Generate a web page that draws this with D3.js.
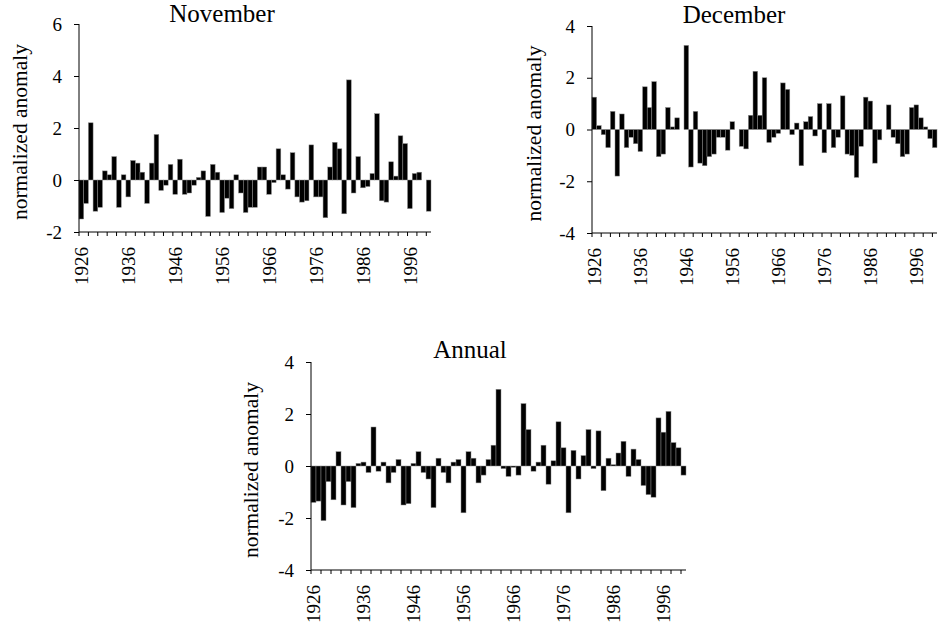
<!DOCTYPE html>
<html lang="en">
<head>
<meta charset="UTF-8">
<title>Normalized anomaly</title>
<style>
  * { margin: 0; }
  body { width: 941px; height: 636px; background: #fff; overflow: hidden; }
  svg { display: block; }
  text { font-family: "Liberation Serif", "Times New Roman", serif; fill: #000; }
</style>
</head>
<body>
<svg id="chart" width="941" height="636"></svg>
<script src="https://d3js.org/d3.v7.min.js"></script>
<script>
// data
const years = d3.range(1926, 2001);

const november = [
  -1.5, -0.9, 2.2, -1.2, -1.05, 0.35, 0.2, 0.9, -1.05, 0.2,
  -0.65, 0.75, 0.65, 0.3, -0.9, 0.65, 1.75, -0.4, -0.2, 0.6,
  -0.55, 0.8, -0.55, -0.5, -0.2, 0.1, 0.35, -1.4, 0.6, 0.3,
  -1.25, -0.7, -1.1, 0.2, -0.5, -1.25, -1.05, -1.05, 0.5, 0.5,
  -0.55, -0.1, 1.2, 0.2, -0.35, 1.05, -0.65, -0.85, -0.8, 1.35,
  -0.65, -0.65, -1.45, 0.5, 1.45, 1.2, -1.3, 3.85, -0.5, 0.9,
  -0.3, -0.25, 0.25, 2.55, -0.8, -0.85, 0.7, 0.15, 1.7, 1.4,
  -1.1, 0.25, 0.3, 0, -1.2
];

const december = [
  1.25, 0.15, -0.2, -0.7, 0.7, -1.8, 0.6, -0.7, -0.3, -0.55,
  -0.85, 1.65, 0.85, 1.85, -1.05, -0.95, 0.85, 0.1, 0.45, 0,
  3.25, -1.45, 0.7, -1.3, -1.4, -1.05, -0.95, -0.3, -0.3, -0.8,
  0.3, 0, -0.65, -0.75, 0.55, 2.25, 0.55, 2.0, -0.5, -0.3,
  -0.15, 1.8, 1.55, -0.2, 0.25, -1.4, 0.3, 0.5, -0.25, 1.0,
  -0.9, 1.0, -0.7, -0.3, 1.3, -0.95, -1.0, -1.85, -0.65, 1.25,
  1.1, -1.3, -0.4, 0, 0.95, -0.3, -0.55, -1.05, -0.95, 0.85,
  0.95, 0.45, 0.1, -0.35, -0.7
];

const annual = [
  -1.4, -1.35, -2.1, -0.6, -1.3, 0.55, -1.5, -0.6, -1.6, 0.1,
  0.15, -0.25, 1.5, -0.2, 0.15, -0.65, -0.25, 0.25, -1.5, -1.45,
  0.1, 0.55, -0.25, -0.5, -1.6, 0.3, -0.25, -0.65, 0.15, 0.25,
  -1.8, 0.55, 0.3, -0.65, -0.35, 0.25, 0.8, 2.95, -0.1, -0.4,
  -0.05, -0.35, 2.4, 1.4, -0.2, 0.15, 0.8, -0.7, 0.2, 1.7,
  0.7, -1.8, 0.6, -0.5, 0.4, 1.4, -0.1, 1.35, -0.95, 0.3,
  0.05, 0.5, 0.95, -0.4, 0.65, 0.25, -0.75, -1.1, -1.2, 1.85,
  1.3, 2.1, 0.9, 0.7, -0.35
];

const novTicks = [-2, 0, 2, 4, 6];
const decTicks = [-4, -2, 0, 2, 4];
const annTicks = [-4, -2, 0, 2, 4];
const labelYears = years.filter(y => (y - 1926) % 10 === 0);

const svg = d3.select("#chart");

const panels = [
  {title: "November", values: november, ticks: novTicks, domain: [-2, 6],
   left: 79, right: 431, top: 24, bottom: 232, titleX: 222, titleY: 22, labelX: 19},
  {title: "December", values: december, ticks: decTicks, domain: [-4, 4],
   left: 592, right: 937, top: 26, bottom: 233, titleX: 734, titleY: 23, labelX: 533},
  {title: "Annual", values: annual, ticks: annTicks, domain: [-4, 4],
   left: 311, right: 686, top: 362, bottom: 570, titleX: 470, titleY: 358, labelX: 250}
];

panels.forEach(p => {
  const x = d3.scaleBand().domain(years).range([p.left, p.right]).padding(0);
  const y = d3.scaleLinear().domain(p.domain).range([p.bottom, p.top]);
  const g = svg.append("g");

  // bars
  g.append("g")
    .selectAll("rect")
    .data(years.map((yr, i) => ({year: yr, v: p.values[i]})).filter(d => d.v !== 0))
    .join("rect")
    .attr("x", d => x(d.year))
    .attr("width", x.bandwidth())
    .attr("y", d => y(Math.max(0, d.v)))
    .attr("height", d => Math.abs(y(d.v) - y(0)))
    .attr("fill", "#000")
    .attr("stroke", "#8a8a8a")
    .attr("stroke-width", 0.5);

  // y axis
  const yAxis = g.append("g")
    .attr("transform", `translate(${p.left},0)`)
    .call(d3.axisLeft(y).tickValues(p.ticks).tickSize(5).tickPadding(12).tickFormat(d => String(d)));
  yAxis.select(".domain").attr("stroke", "#000").attr("d", `M0,${p.top}V${p.bottom}`);
  yAxis.selectAll(".tick line").attr("stroke", "#000");
  yAxis.selectAll("text")
    .attr("font-family", "Liberation Serif, serif")
    .attr("font-size", 19)
    .attr("fill", "#000");

  // x axis line
  g.append("line")
    .attr("x1", p.left).attr("x2", p.right)
    .attr("y1", p.bottom).attr("y2", p.bottom)
    .attr("stroke", "#000");

  // tick marks every two categories
  g.append("g")
    .selectAll("line")
    .data(years.filter(yr => (yr - 1926) % 2 === 0))
    .join("line")
    .attr("x1", d => x(d)).attr("x2", d => x(d))
    .attr("y1", p.bottom).attr("y2", p.bottom + 4)
    .attr("stroke", "#000");

  // year labels
  g.append("g")
    .selectAll("text")
    .data(labelYears)
    .join("text")
    .attr("transform", d => `translate(${x(d) + x.bandwidth() / 2},${p.bottom + 15}) rotate(-90)`)
    .attr("text-anchor", "end")
    .attr("dy", "0.35em")
    .attr("font-size", 19)
    .text(d => d);

  // title
  g.append("text")
    .attr("x", p.titleX).attr("y", p.titleY)
    .attr("text-anchor", "middle")
    .attr("font-size", 25)
    .text(p.title);

  // axis title
  g.append("text")
    .attr("transform", `translate(${p.labelX},${(p.top + p.bottom) / 2 + 4}) rotate(-90)`)
    .attr("text-anchor", "middle")
    .attr("dy", "0.35em")
    .attr("font-size", 21.5)
    .text("normalized anomaly");
});
</script>
</body>
</html>
